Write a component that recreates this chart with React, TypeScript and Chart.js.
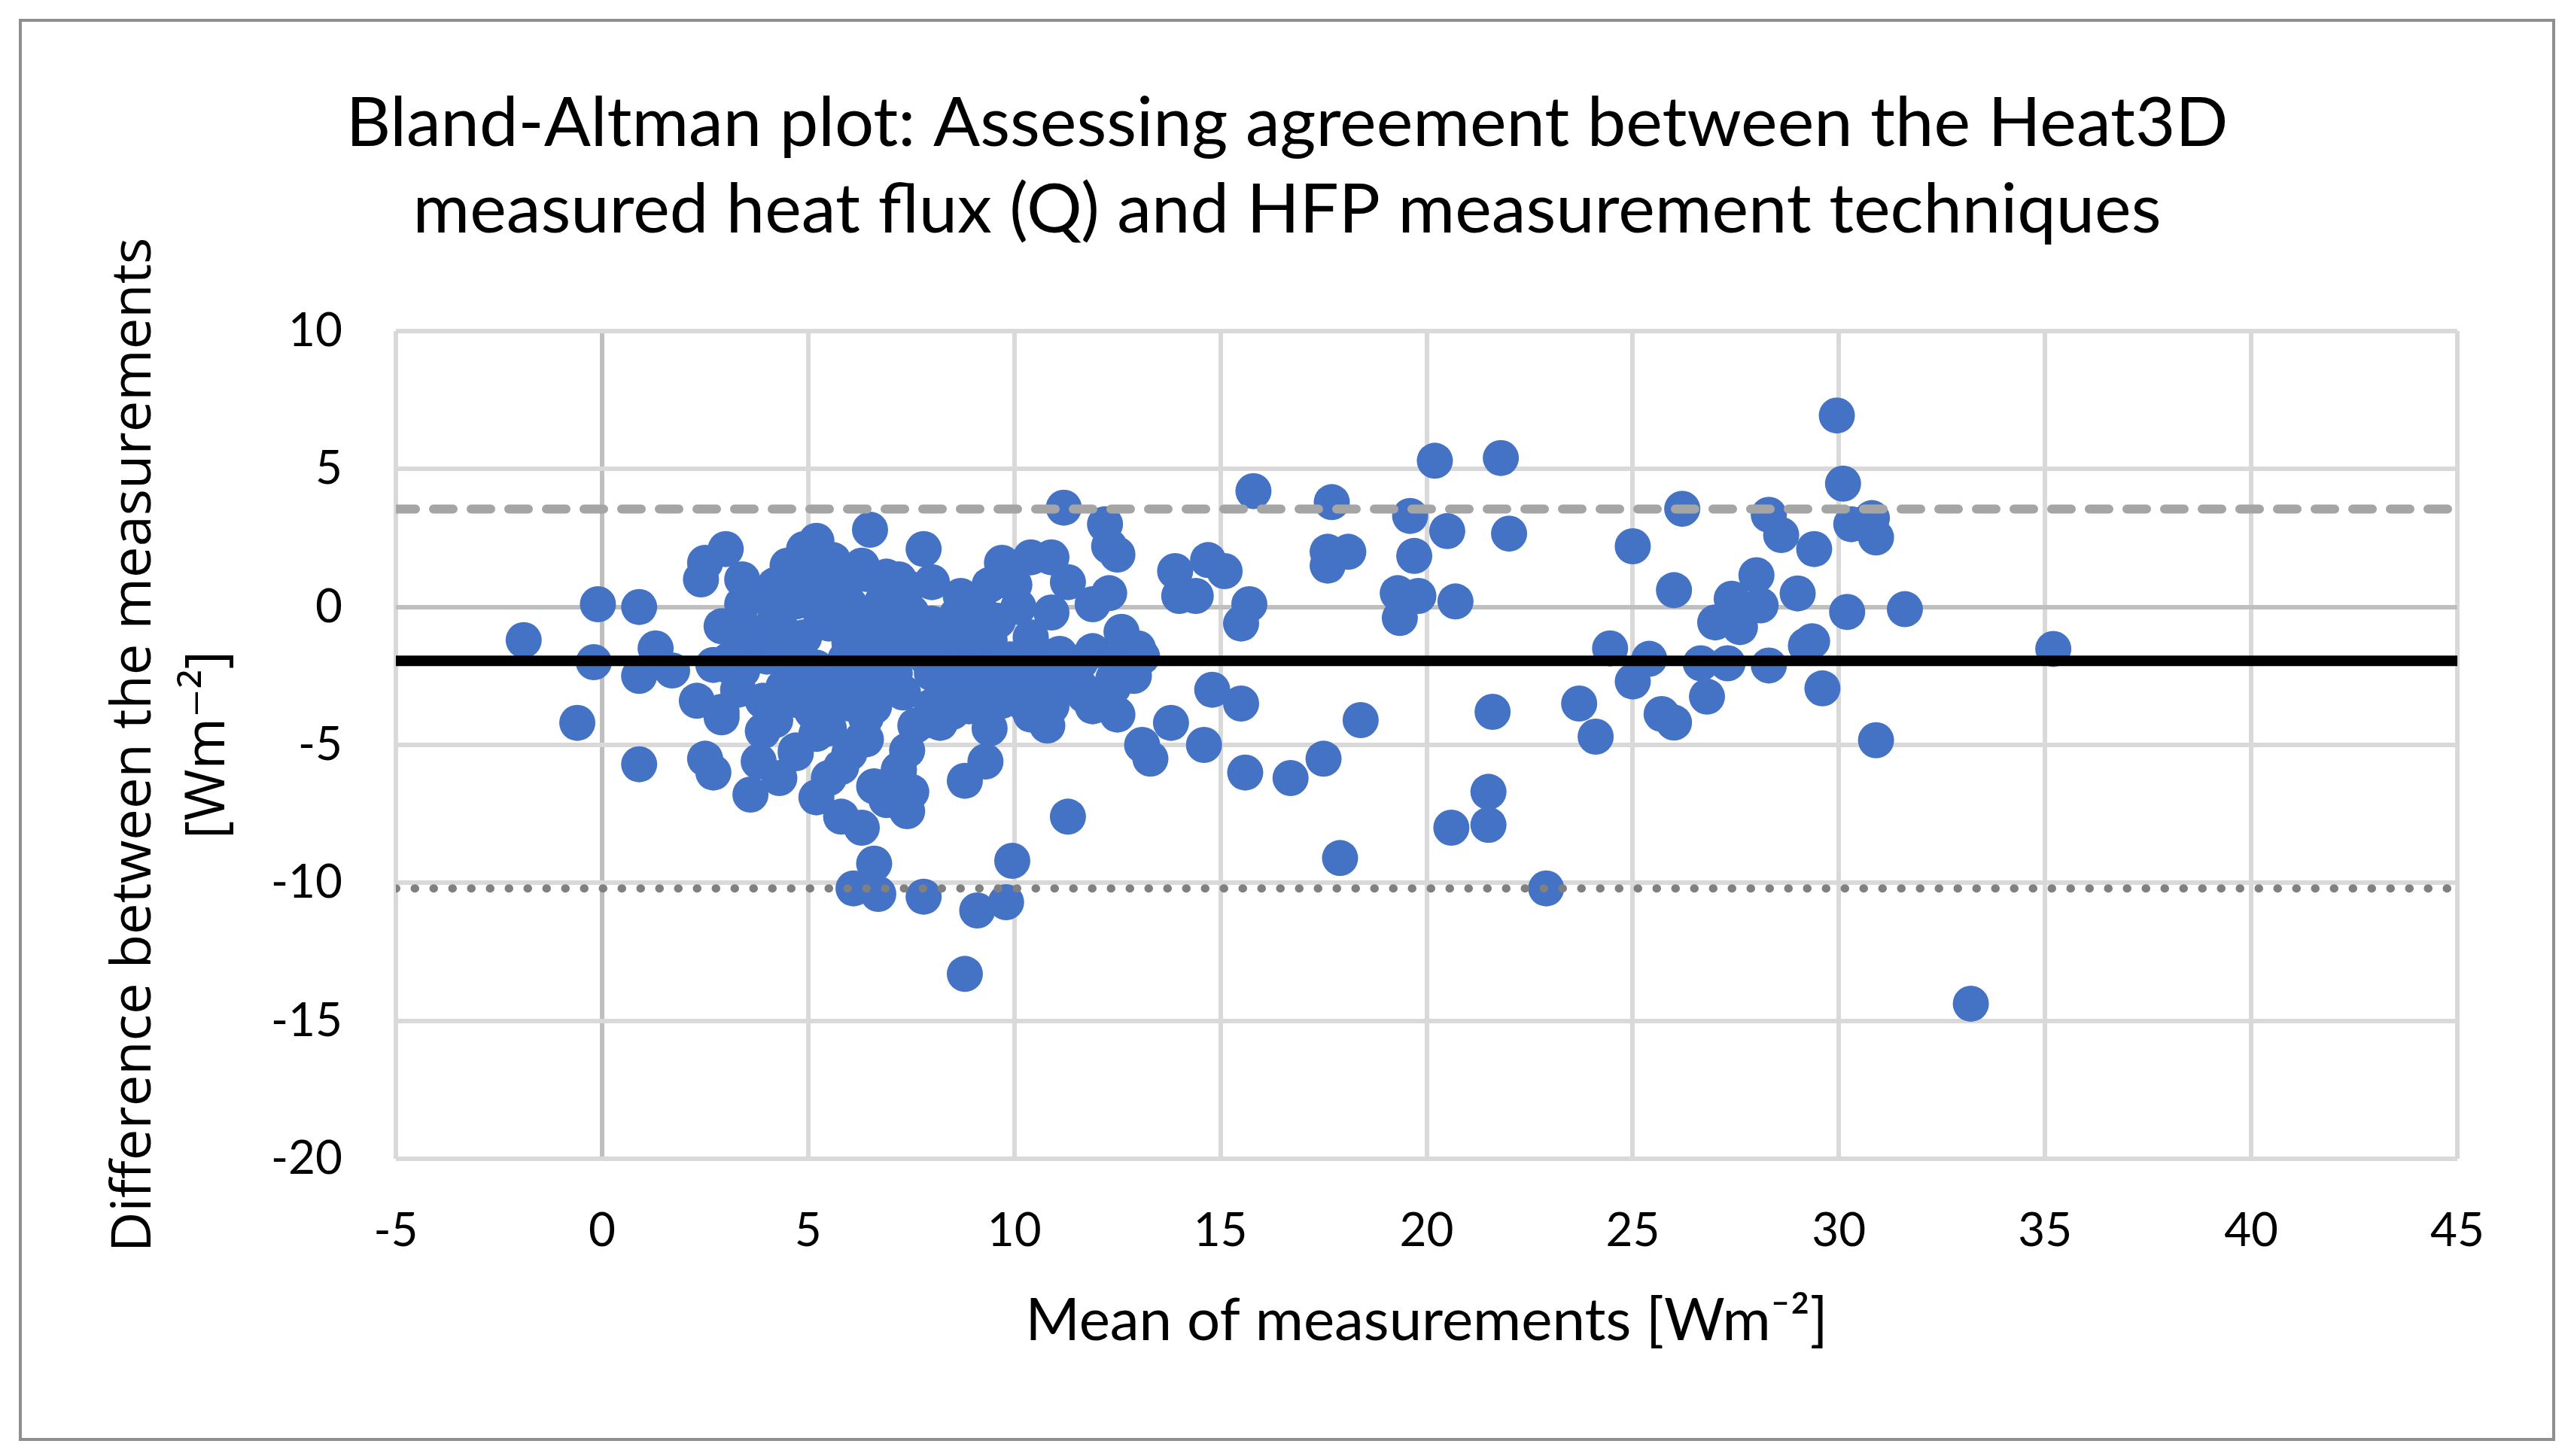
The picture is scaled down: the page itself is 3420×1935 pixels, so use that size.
import React, { useEffect, useRef } from "react";
import { Chart, registerables } from "chart.js";

Chart.register(...registerables);

const meanValues = [
  -1.9, -0.6, -0.2, -0.1, 0.9, 0.9, 0.9, 1.3, 1.7, 2.3,
  2.5, 2.7, 2.4, 2.5, 2.7, 2.9, 2.9, 3.0, 3.1, 3.4,
  3.6, 3.8, 3.9, 3.9, 4.3, 4.2, 4.7, 5.1, 5.2, 4.9,
  5.2, 5.8, 6.3, 6.4, 6.4, 6.5, 6.1, 6.7, 6.6, 7.2,
  7.5, 7.4, 7.4, 7.8, 7.8, 7.9, 8.2, 8.0, 8.0, 8.8,
  8.8, 9.1, 9.3, 9.4, 9.1, 9.4, 9.4, 9.7, 9.8, 9.95,
  10.0, 10.4, 10.4, 10.8, 10.9, 10.9, 11.1, 11.2, 11.3, 11.3,
  11.9, 11.9, 11.9, 12.2, 12.3, 12.3, 12.5, 12.5, 13.0, 12.9,
  13.1, 13.3, 13.8, 13.9, 5.1, 5.6, 5.6, 4.5, 6.3, 6.9,
  7.4, 6.4, 3.4, 4.7, 6.0, 6.8, 7.5, 8.6, 4.2, 5.5,
  7.1, 4.9, 6.5, 7.5, 8.3, 8.9, 3.7, 4.0, 4.6, 6.1,
  7.1, 8.0, 8.6, 9.8, 5.6, 5.1, 6.8, 8.0, 8.9, 2.9,
  4.0, 4.7, 5.8, 6.3, 7.2, 8.5, 9.0, 9.4, 10.0, 10.6,
  11.3, 10.9, 10.3, 9.7, 12.4, 12.5, 11.6, 8.8, 10.6, 12.6,
  13.1, 9.9, 11.1, 12.4, 10.4, 5.2, 6.4, 7.3, 8.2, 6.2,
  3.0, 3.4, 4.4, 5.9, 6.7, 7.8, 5.0, 4.0, 3.6, 5.9,
  7.2, 7.0, 5.3, 4.4, 3.6, 6.0, 8.4, 9.2, 4.8, 6.0,
  6.6, 7.6, 5.5, 6.0, 5.5, 6.6, 6.9, 5.2, 3.3, 4.2,
  9.2, 10.2, 11.7, 9.6, 10.1, 8.7, 4.3, 5.3, 6.9, 7.9,
  4.9, 5.8, 6.6, 3.3, 8.9, 10.3, 11.6,
  14.0, 14.4, 14.7, 15.1, 15.7, 15.5, 15.8, 14.8, 15.5, 14.6,
  15.6, 16.7, 17.5, 17.7, 17.6, 18.1, 17.6, 18.4, 17.9, 19.6,
  20.2, 21.8, 20.5, 22.0, 19.7, 19.3, 19.8, 20.7, 19.35, 21.6,
  21.5, 20.6, 21.5, 22.9, 23.7, 24.1, 24.45, 25.0, 25.0,
  29.95, 30.1, 26.2, 28.3, 28.6, 29.4, 30.8, 30.3, 30.9, 26.0,
  28.0, 29.0, 27.4, 28.1, 27.6, 27.0, 30.2, 31.6, 35.2, 25.4,
  26.65, 27.3, 28.3, 29.35, 29.2, 29.6, 26.8, 25.7, 26.0, 30.9,
  33.2,
];

const diffValues = [
  -1.2, -4.2, -2.0, 0.1, 0.0, -2.5, -5.7, -1.5, -2.3, -3.4,
  -5.5, -6.0, 1.0, 1.6, -2.1, -4.0, -0.7, 2.1, -1.9, 1.0,
  -6.8, -5.6, -3.4, -4.5, -6.2, 0.8, -5.2, -3.8, -6.9, 2.1,
  2.4, -7.6, -8.0, -4.0, -4.8, 2.8, -10.2, -10.4, -9.3, -5.9,
  -6.7, -7.4, -5.2, 2.1, -10.5, -4.1, -4.2, 0.9, -0.6, -6.3,
  -13.3, -11.0, -5.6, -4.4, -0.9, -1.2, 0.8, 1.6, -10.7, -9.2,
  0.8, -1.1, 1.8, -4.3, -0.2, 1.8, -1.7, 3.6, 0.9, -7.6,
  0.1, -1.6, -3.6, 3.0, 2.2, 0.5, 1.9, -3.9, -1.5, -2.5,
  -5.0, -5.5, -4.2, 1.3, 1.2, 0.4, 1.7, 1.5, 1.5, 1.1,
  0.7, 1.2, 0.1, 0.2, 0.1, 0.2, -0.2, -0.3, -0.4, -0.6,
  -0.7, -1.1, -1.1, -1.5, -1.5, -1.7, -1.6, -1.8, -2.4, -2.6,
  -2.4, -2.4, -2.6, -2.0, -3.3, -3.1, -2.9, -3.6, -3.6, -3.8,
  -3.5, -5.3, -5.8, -4.8, -5.9, -3.8, -2.9, -2.6, -2.4, -2.5,
  -2.7, -3.6, -3.6, -3.4, -2.9, -2.0, -2.0, -1.8, -1.7, -0.9,
  -1.8, -1.9, -1.8, -2.6, -3.9, -2.2, -2.6, -3.1, -2.6, -0.7,
  -2.1, -2.3, -2.9, -1.9, -1.8, -1.0, 0.7, 0.5, 0.4, 0.9,
  1.0, 0.4, -0.2, -0.9, -0.9, -1.3, -0.9, -0.2, -3.4, -3.5,
  -3.6, -4.3, -4.4, -5.3, -6.2, -6.5, -7.0, -4.6, -3.0, -4.1,
  -3.2, -3.0, -3.2, -0.5, 0.0, 0.4, -1.4, -2.7, -1.3, -1.9,
  -2.0, -0.3, -0.4, -1.2, -2.3, -1.9, -2.9,
  0.4, 0.4, 1.7, 1.3, 0.1, -0.6, 4.2, -3.0, -3.5, -5.0,
  -6.0, -6.2, -5.5, 3.8, 2.0, 2.0, 1.5, -4.1, -9.1, 3.3,
  5.3, 5.4, 2.75, 2.66, 1.85, 0.5, 0.4, 0.2, -0.4, -3.8,
  -6.7, -8.0, -7.9, -10.2, -3.5, -4.7, -1.5, 2.2, -2.7,
  6.94, 4.47, 3.56, 3.34, 2.61, 2.1, 3.22, 3.0, 2.52, 0.61,
  1.15, 0.49, 0.3, 0.06, -0.73, -0.56, -0.18, -0.08, -1.52, -1.88,
  -2.04, -2.04, -2.12, -1.24, -1.4, -2.95, -3.25, -3.88, -4.19, -4.83,
  -14.38,
];

// reference lines: upper limit of agreement, mean difference, lower limit
const upperLimit = 3.55;
const meanDiff = -1.95;
const lowerLimit = -10.2;

const xRange = [-5, 45];
const yRange = [-20, 10];

const titleLines = [
  "Bland-Altman plot: Assessing agreement between the Heat3D",
  "measured heat flux (Q) and HFP measurement techniques",
];
const xTitle = "Mean of measurements [Wm\u207B\u00B2]";
const yTitle = ["Difference between the measurements", "[Wm\u207B\u00B2]"];

const W = 3420;
const H = 1935;

const hline = (y: number) => xRange.map((x) => ({ x, y }));

const gridColor = (ctx: any) => (ctx.tick && ctx.tick.value === 0 ? "#BFBFBF" : "#D9D9D9");

const App: React.FC = () => {
  const canvasRef = useRef<HTMLCanvasElement | null>(null);
  const chartRef = useRef<Chart | null>(null);

  useEffect(() => {
    if (chartRef.current) chartRef.current.destroy();
    if (!canvasRef.current) return;

    const tickFont = { family: "Lato, 'DejaVu Sans', sans-serif", size: 62 };

    chartRef.current = new Chart(canvasRef.current, {
      type: "scatter",
      data: {
        datasets: [
          {
            label: "Differences",
            data: meanValues.map((x, i) => ({ x, y: diffValues[i] })),
            backgroundColor: "#4472C4",
            borderWidth: 0,
            pointRadius: 24,
            pointHoverRadius: 24,
            order: 4,
          },
          {
            label: "Upper limit",
            data: hline(upperLimit),
            showLine: true,
            borderColor: "#A5A5A5",
            borderWidth: 12,
            borderDash: [26, 24],
            borderCapStyle: "round",
            pointRadius: 0,
            order: 3,
          },
          {
            label: "Lower limit",
            data: hline(lowerLimit),
            showLine: true,
            borderColor: "#808080",
            borderWidth: 11,
            borderDash: [0.5, 24.5],
            borderCapStyle: "round",
            pointRadius: 0,
            order: 2,
          },
          {
            label: "Mean",
            data: hline(meanDiff),
            showLine: true,
            borderColor: "#000000",
            borderWidth: 14,
            pointRadius: 0,
            order: 1,
          },
        ],
      },
      options: {
        responsive: false,
        animation: false,
        devicePixelRatio: 1,
        layout: { padding: 0 },
        plugins: {
          legend: { display: false },
          tooltip: { enabled: false },
          title: {
            display: true,
            text: titleLines,
            color: "#000",
            font: { family: "Lato, 'DejaVu Sans', sans-serif", size: 92, weight: "normal", lineHeight: 1.25 },
            padding: { top: 107, bottom: 103 },
          },
        },
        scales: {
          x: {
            type: "linear",
            min: xRange[0],
            max: xRange[1],
            ticks: { stepSize: 5, color: "#000", font: tickFont, padding: 59 },
            grid: { color: gridColor, lineWidth: 6, drawTicks: false },
            border: { display: false },
            title: {
              display: true,
              text: xTitle,
              color: "#000",
              font: { family: "Lato, 'DejaVu Sans', sans-serif", size: 78, lineHeight: 1.27 },
              padding: { top: 0, bottom: 130 },
            },
            afterFit: (s: any) => {
              s.height = H - 1540;
            },
          },
          y: {
            type: "linear",
            min: yRange[0],
            max: yRange[1],
            ticks: { stepSize: 5, color: "#000", font: tickFont, padding: 71 },
            grid: { color: gridColor, lineWidth: 6, drawTicks: false },
            border: { display: false },
            title: {
              display: true,
              text: yTitle,
              color: "#000",
              font: { family: "'Open Sans', 'DejaVu Sans', sans-serif", size: 74, lineHeight: 1.32 },
              padding: { top: 130, bottom: 0 },
            },
            afterFit: (s: any) => {
              s.width = 526;
            },
          },
          y2: {
            type: "linear",
            position: "right",
            display: true,
            grid: { display: false },
            ticks: { display: false },
            border: { display: false },
            afterFit: (s: any) => {
              s.width = W - 3265;
            },
          },
        },
      },
    } as any);

    return () => {
      chartRef.current?.destroy();
      chartRef.current = null;
    };
  }, []);

  return (
    <div style={{ position: "fixed", left: 0, top: 0, width: W, height: H, background: "#fff" }}>
      <canvas ref={canvasRef} width={W} height={H} style={{ position: "absolute", left: 0, top: 0 }} />
      <div
        style={{
          position: "absolute",
          left: 25,
          top: 25,
          width: 3370,
          height: 1890,
          boxSizing: "border-box",
          border: "4px solid #8F8F8F",
          pointerEvents: "none",
        }}
      />
    </div>
  );
};

export default App;
